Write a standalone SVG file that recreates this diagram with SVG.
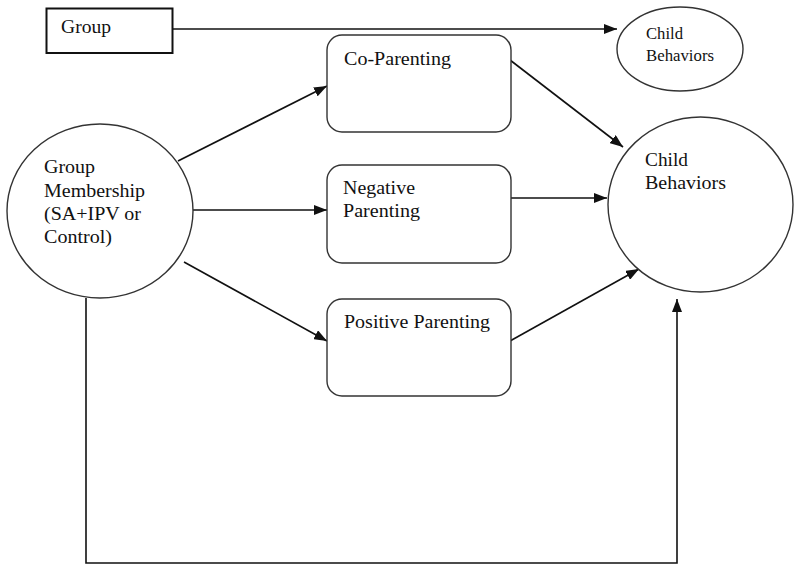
<svg xmlns="http://www.w3.org/2000/svg" width="800" height="572" viewBox="0 0 800 572">
<style>
  .lbl { font-family: "Liberation Serif", "Times New Roman", serif; font-size: 18.5px; fill: #111; }
  .sm { font-family: "Liberation Serif", "Times New Roman", serif; font-size: 16.5px; fill: #111; }
  .node { fill: #fff; stroke: #333; stroke-width: 1.4; }
  .conn { fill: none; stroke: #111; stroke-width: 1.6; }
</style>
<defs>
  <marker id="arr" markerUnits="userSpaceOnUse" markerWidth="14" markerHeight="10" refX="13" refY="5" orient="auto">
    <path d="M0,0 L13,5 L0,10 Z" fill="#111"/>
  </marker>
</defs>
<rect width="800" height="572" fill="#fff"/>

<g id="connectors">
  <line class="conn" x1="173" y1="29" x2="617" y2="29" marker-end="url(#arr)"/>
  <line class="conn" x1="178" y1="161" x2="327" y2="86" marker-end="url(#arr)"/>
  <line class="conn" x1="193" y1="210" x2="327" y2="210" marker-end="url(#arr)"/>
  <line class="conn" x1="184" y1="262" x2="327" y2="341" marker-end="url(#arr)"/>
  <line class="conn" x1="510" y1="60" x2="623" y2="147" marker-end="url(#arr)"/>
  <line class="conn" x1="510" y1="198" x2="607" y2="198" marker-end="url(#arr)"/>
  <line class="conn" x1="510" y1="341" x2="639" y2="269" marker-end="url(#arr)"/>
  <polyline class="conn" points="86,298 86,563 677,563 677,299" stroke-width="2" marker-end="url(#arr)"/>
</g>

<g id="group-box">
  <rect x="46.5" y="8.5" width="126" height="44.5" fill="#fff" stroke="#111" stroke-width="2"/>
  <text class="lbl" x="61" y="33" textLength="50" lengthAdjust="spacingAndGlyphs">Group</text>
</g>

<g id="child-behaviors-small">
  <ellipse cx="680" cy="49" rx="63" ry="42" class="node"/>
  <text class="sm" x="646" y="39" textLength="37" lengthAdjust="spacingAndGlyphs">Child</text>
  <text class="sm" x="646" y="61" textLength="68" lengthAdjust="spacingAndGlyphs">Behaviors</text>
</g>

<g id="group-membership">
  <ellipse cx="100" cy="211" rx="93" ry="87" class="node"/>
  <text class="lbl" x="44" y="173" textLength="51" lengthAdjust="spacingAndGlyphs">Group</text>
  <text class="lbl" x="44" y="197" textLength="101" lengthAdjust="spacingAndGlyphs">Membership</text>
  <text class="lbl" x="44" y="220" textLength="97" lengthAdjust="spacingAndGlyphs">(SA+IPV or</text>
  <text class="lbl" x="44" y="243" textLength="68" lengthAdjust="spacingAndGlyphs">Control)</text>
</g>

<g id="co-parenting">
  <rect x="327" y="35" width="184" height="97" rx="15" class="node"/>
  <text class="lbl" x="344" y="65" textLength="107" lengthAdjust="spacingAndGlyphs">Co-Parenting</text>
</g>

<g id="negative-parenting">
  <rect x="327" y="165" width="184" height="98" rx="15" class="node"/>
  <text class="lbl" x="343" y="194" textLength="72" lengthAdjust="spacingAndGlyphs">Negative</text>
  <text class="lbl" x="343" y="217" textLength="77" lengthAdjust="spacingAndGlyphs">Parenting</text>
</g>

<g id="positive-parenting">
  <rect x="327" y="299" width="184" height="97" rx="15" class="node"/>
  <text class="lbl" x="344" y="328" textLength="146" lengthAdjust="spacingAndGlyphs">Positive Parenting</text>
</g>

<g id="child-behaviors">
  <ellipse cx="700.5" cy="204.5" rx="92.5" ry="87.5" class="node"/>
  <text class="lbl" x="645" y="166" textLength="43" lengthAdjust="spacingAndGlyphs">Child</text>
  <text class="lbl" x="645" y="189" textLength="81" lengthAdjust="spacingAndGlyphs">Behaviors</text>
</g>
</svg>
